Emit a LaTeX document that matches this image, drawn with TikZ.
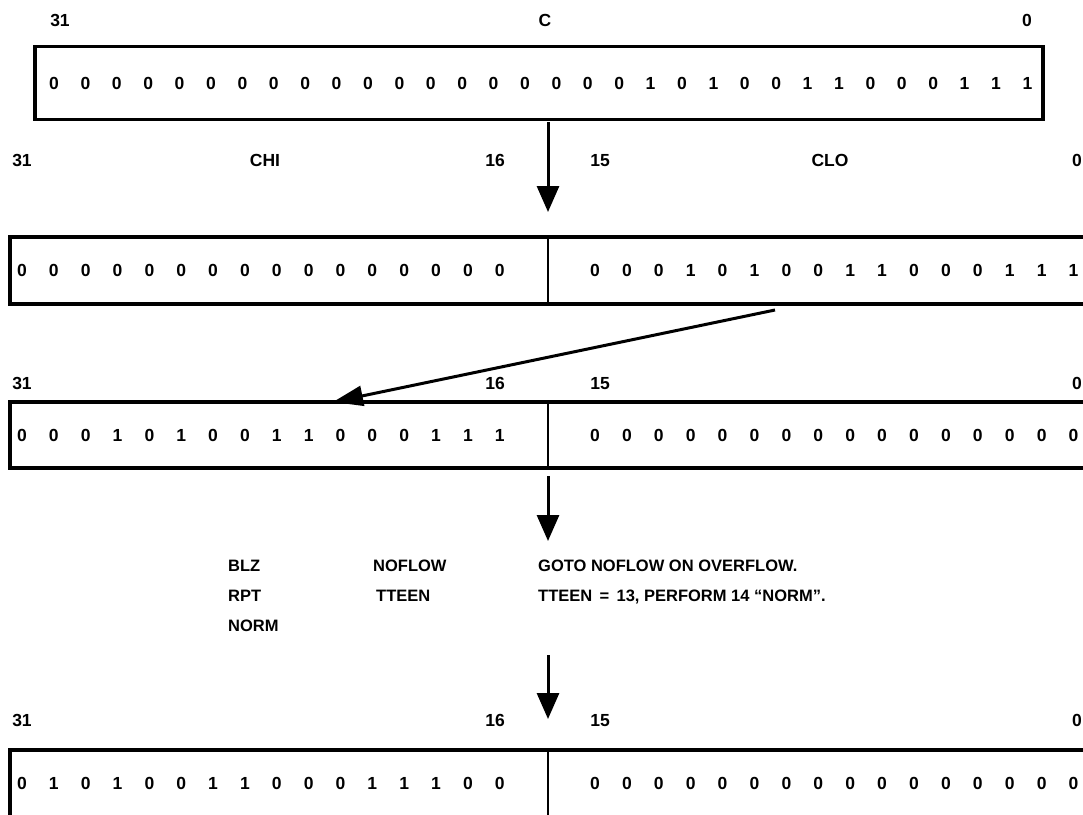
\documentclass[tikz,border=0pt]{standalone}
\usepackage{fontspec}
\setmainfont{Liberation Sans}
\usetikzlibrary{arrows.meta}
\tikzset{
  bit/.style={font=\bfseries\fontsize{17.5}{20}\selectfont, inner sep=0pt, anchor=base},
  code/.style={bit, font=\bfseries\fontsize{16.5}{20}\selectfont, anchor=base west},
  reg/.style={draw, rectangle, line width=3.6pt, inner sep=0pt},
  divider/.style={line width=2.8pt},
  flow/.style={-{Triangle[length=26pt,width=22pt]}, line width=3pt},
}

\begin{document}
\begin{tikzpicture}[x=1pt,y=-1pt]
    \useasboundingbox (0,0) rectangle (1083,814);
    \clip (0,0) rectangle (1083,814);
    \coordinate (mid) at (548,0);

    % register C
    \node[reg, minimum width=1008pt, minimum height=73pt] (regC) at (539,83) {};
    \node[bit] (c31) at (60,26.5) {31};
    \node[bit] (cname) at (545,26.5) {C};
    \node[bit] (c0) at (1027,26.5) {0};
    \foreach \b [count=\i from 0] in {0,0,0,0,0,0,0,0,0,0,0,0,0,0,0,0,0,0,0,1,0,1,0,0,1,1,0,0,0,1,1,1}
      \node[bit] (cb\i) at ({54+\i*31.4},89.5) {\b};

    % CHI / CLO
    \node[reg, minimum width=1090pt, minimum height=67pt] (regB) at (555,270.5) {};
    \draw[divider] (regB.north -| mid) -- (regB.south -| mid);
    \node[bit] (b31) at (22,166.5) {31};
    \node[bit] (bhi) at (265,166.5) {CHI};
    \node[bit] (b16) at (495,166.5) {16};
    \node[bit] (b15) at (600,166.5) {15};
    \node[bit] (blo) at (830,166.5) {CLO};
    \node[bit] (b0) at (1077,166.5) {0};
    \foreach \b [count=\i from 0] in {0,0,0,0,0,0,0,0,0,0,0,0,0,0,0,0}
      \node[bit] (bh\i) at ({22+\i*31.85},276.5) {\b};
    \foreach \b [count=\i from 0] in {0,0,0,1,0,1,0,0,1,1,0,0,0,1,1,1}
      \node[bit] (bl\i) at ({595+\i*31.9},276.5) {\b};

    % CLO moved up
    \node[reg, minimum width=1090pt, minimum height=66pt] (regS) at (555,435) {};
    \draw[divider] (regS.north -| mid) -- (regS.south -| mid);
    \node[bit] (s31) at (22,389.5) {31};
    \node[bit] (s16) at (495,389.5) {16};
    \node[bit] (s15) at (600,389.5) {15};
    \node[bit] (s0) at (1077,389.5) {0};
    \foreach \b [count=\i from 0] in {0,0,0,1,0,1,0,0,1,1,0,0,0,1,1,1}
      \node[bit] (sh\i) at ({22+\i*31.85},441.5) {\b};
    \foreach \b [count=\i from 0] in {0,0,0,0,0,0,0,0,0,0,0,0,0,0,0,0}
      \node[bit] (sl\i) at ({595+\i*31.9},441.5) {\b};

    % code
    \node[code] (op1) at (228,571.5) {BLZ};
    \node[code] (arg1) at (373,571.5) {NOFLOW};
    \node[code] (rem1) at (538,571.5) {GOTO NOFLOW ON OVERFLOW.};
    \node[code] (op2) at (228,601.5) {RPT};
    \node[code] (arg2) at (376,601.5) {TTEEN};
    \node[code] (rem2) at (538,601.5) {TTEEN \,=\, 13, PERFORM 14 ``NORM''.};
    \node[code] (op3) at (228,631.5) {NORM};

    % normalized
    \node[reg, minimum width=1090pt, minimum height=70pt] (regN) at (555,785) {};
    \draw[divider] (regN.north -| mid) -- (regN.south -| mid);
    \node[bit] (n31) at (22,726.5) {31};
    \node[bit] (n16) at (495,726.5) {16};
    \node[bit] (n15) at (600,726.5) {15};
    \node[bit] (n0) at (1077,726.5) {0};
    \foreach \b [count=\i from 0] in {0,1,0,1,0,0,1,1,0,0,0,1,1,1,0,0}
      \node[bit] (nh\i) at ({22+\i*31.85},789.5) {\b};
    \foreach \b [count=\i from 0] in {0,0,0,0,0,0,0,0,0,0,0,0,0,0,0,0}
      \node[bit] (nl\i) at ({595+\i*31.9},789.5) {\b};

    % arrows
    \coordinate (a1) at (548,122);
    \coordinate (a1e) at (548,212);
    \coordinate (a2) at (775,310);
    \coordinate (a2e) at (333,402);
    \coordinate (a3) at (548,476);
    \coordinate (a3e) at (548,541);
    \coordinate (a4) at (548,655);
    \coordinate (a4e) at (548,719);
    \draw[flow] (a1) -- (a1e);
    \draw[flow, -{Triangle[length=30pt,width=20pt]}] (a2) -- (a2e);
    \draw[flow] (a3) -- (a3e);
    \draw[flow] (a4) -- (a4e);
\end{tikzpicture}
\end{document}
